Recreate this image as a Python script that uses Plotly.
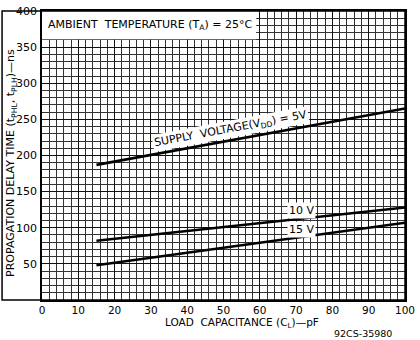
import plotly.graph_objects as go

# Data
load_pf = [15, 50, 100]
delay_5v = [187, 219, 265]
delay_10v = [82, 101, 128]
delay_15v = [48, 72, 107]
series_names = ["5V", "10 V", "15 V"]
x_ticks = [0, 10, 20, 30, 40, 50, 60, 70, 80, 90, 100]
y_ticks = [50, 100, 150, 200, 250, 300, 350, 400]

FONT = "DejaVu Sans"
fig = go.Figure()
for name, ys in zip(series_names, [delay_5v, delay_10v, delay_15v]):
    fig.add_trace(go.Scatter(x=load_pf, y=ys, mode="lines", name=name,
                             line=dict(color="black", width=2.6), showlegend=False))

fig.update_layout(
    width=420, height=340,
    margin=dict(l=42, r=14, t=5, b=40),
    paper_bgcolor="white", plot_bgcolor="white",
    font=dict(family=FONT, size=11, color="black"),
    xaxis=dict(range=[0, 100], tickvals=x_ticks, showgrid=True, gridcolor="#111", gridwidth=1.4,
               minor=dict(dtick=2, showgrid=True, gridcolor="#333", gridwidth=1),
               showline=True, linecolor="black", linewidth=1.5, mirror=True,
               ticks="", tickfont=dict(size=10.5), zeroline=False, ticklabelstandoff=0),
    yaxis=dict(range=[0, 400], tickvals=y_ticks, showgrid=True, gridcolor="#111", gridwidth=1.4,
               minor=dict(dtick=10, showgrid=True, gridcolor="#333", gridwidth=1),
               showline=True, linecolor="black", linewidth=1.5, mirror=True,
               ticks="", tickfont=dict(size=11), zeroline=False, ticklabelstandoff=1),
)

# white box behind ambient text
fig.add_shape(type="rect", xref="x", yref="y", x0=0, x1=59, y0=361, y1=400,
              fillcolor="white", line=dict(width=0), layer="between")
# outer frame enclosing y labels
fig.add_shape(type="rect", xref="paper", yref="paper", x0=-0.11, x1=1, y0=0, y1=1,
              line=dict(color="black", width=1.5), layer="above")

fig.add_annotation(xref="x", yref="y", x=1, y=380, xanchor="left", yanchor="middle",
                   text="AMBIENT  TEMPERATURE (T<sub>A</sub>) = 25°C", showarrow=False,
                   font=dict(size=11))
fig.add_annotation(xref="x", yref="y", x=52, y=237, text="SUPPLY  VOLTAGE(V<sub>DD</sub>) = 5V",
                   showarrow=False, textangle=-10.6, bgcolor="white", font=dict(size=11))
fig.add_annotation(xref="x", yref="y", x=71.5, y=124, text="10 V", showarrow=False,
                   bgcolor="white", font=dict(size=11))
fig.add_annotation(xref="x", yref="y", x=71.5, y=97, text="15 V", showarrow=False,
                   bgcolor="white", font=dict(size=11))

fig.add_annotation(xref="paper", yref="paper", x=(11 - 42) / 364, y=(300 - 160) / 295,
                   xanchor="center", yanchor="middle",
                   text="PROPAGATION DELAY TIME (t<sub>PHL</sub>, t<sub>PLH</sub>)—ns",
                   textangle=-90, showarrow=False, font=dict(size=11))
fig.add_annotation(xref="paper", yref="paper", x=(243 - 42) / 364, y=-(323.5 - 300) / 295,
                   xanchor="center", yanchor="middle",
                   text="LOAD  CAPACITANCE (C<sub>L</sub>)—pF", showarrow=False,
                   font=dict(size=10.5))
fig.add_annotation(xref="paper", yref="paper", x=(364 - 42) / 364, y=-(334.5 - 300) / 295,
                   xanchor="center", yanchor="middle",
                   text="92CS-35980", showarrow=False, font=dict(size=9.5))

fig.write_html("out.html", config={"displayModeBar": False},
               post_script="document.body.style.margin='0';")
